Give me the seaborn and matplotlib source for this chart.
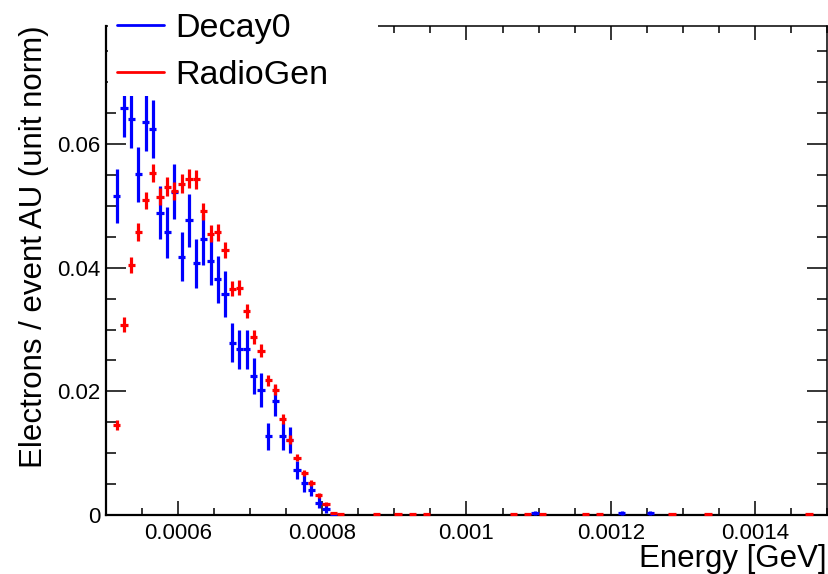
import numpy as np
import pandas as pd
import seaborn as sns
import matplotlib
matplotlib.use("Agg")
import matplotlib.pyplot as plt
from matplotlib.lines import Line2D
from matplotlib.patches import Rectangle
from matplotlib.ticker import MultipleLocator

# ---------------- data ----------------
half_bin = 0.000005

radiogen_energy = [0.000515, 0.000525, 0.000535, 0.000545, 0.000555, 0.000565, 0.000575,
                   0.000585, 0.000595, 0.000605, 0.000615, 0.000625, 0.000635, 0.000645,
                   0.000655, 0.000665, 0.000675, 0.000685, 0.000695, 0.000705, 0.000715,
                   0.000725, 0.000735, 0.000745, 0.000755, 0.000765, 0.000775, 0.000785,
                   0.000795, 0.000805, 0.000815, 0.000825,
                   0.000875, 0.000905, 0.000925, 0.000945, 0.001065, 0.001085, 0.001105,
                   0.001165, 0.001185, 0.001285, 0.001335, 0.001475]
radiogen_value = [0.0145, 0.0308, 0.0404, 0.0458, 0.0509, 0.0553, 0.0515,
                  0.0531, 0.0524, 0.0536, 0.0544, 0.0543, 0.0491, 0.0455,
                  0.0457, 0.0428, 0.0366, 0.0368, 0.0330, 0.0288, 0.0266,
                  0.0218, 0.0203, 0.0156, 0.0122, 0.0093, 0.0068, 0.0052,
                  0.0032, 0.0018, 0.0004, 0.0001,
                  0.0001, 0.0001, 0.0001, 0.0001, 0.0001, 0.0001, 0.0001,
                  0.0001, 0.0001, 0.0001, 0.0001, 0.0001]
radiogen_error = [0.0008, 0.0012, 0.0013, 0.0014, 0.0014, 0.0015, 0.0014,
                  0.0015, 0.0014, 0.0015, 0.0015, 0.0015, 0.0014, 0.0014,
                  0.0014, 0.0013, 0.0012, 0.0012, 0.0011, 0.0011, 0.0010,
                  0.0009, 0.0009, 0.0008, 0.0007, 0.0006, 0.0005, 0.0005,
                  0.0004, 0.0003, 0.00015, 0.0001,
                  0.0001, 0.0001, 0.0001, 0.0001, 0.0001, 0.0001, 0.0001,
                  0.0001, 0.0001, 0.0001, 0.0001, 0.0001]

decay0_energy = [0.000515, 0.000525, 0.000535, 0.000545, 0.000555, 0.000565, 0.000575,
                 0.000585, 0.000595, 0.000605, 0.000615, 0.000625, 0.000635, 0.000645,
                 0.000655, 0.000665, 0.000675, 0.000685, 0.000695, 0.000705, 0.000715,
                 0.000725, 0.000735, 0.000745, 0.000755, 0.000765, 0.000775, 0.000785,
                 0.000795, 0.000805, 0.000815,
                 0.001095, 0.001215, 0.001255]
decay0_value = [0.0516, 0.0659, 0.0640, 0.0551, 0.0636, 0.0625, 0.0489,
                0.0457, 0.0523, 0.0418, 0.0477, 0.0407, 0.0446, 0.0411,
                0.0381, 0.0357, 0.0279, 0.0268, 0.0268, 0.0225, 0.0202,
                0.0127, 0.0185, 0.0127, 0.0121, 0.0073, 0.0051, 0.0041,
                0.0020, 0.0010, 0.0002,
                0.0003, 0.0003, 0.0003]
decay0_error = [0.0044, 0.0047, 0.0047, 0.0045, 0.0047, 0.0047, 0.0043,
                0.0042, 0.0045, 0.0040, 0.0043, 0.0039, 0.0041, 0.0039,
                0.0038, 0.0037, 0.0032, 0.0032, 0.0032, 0.0029, 0.0028,
                0.0022, 0.0025, 0.0022, 0.0021, 0.0015, 0.0014, 0.0011,
                0.0009, 0.0006, 0.0002,
                0.0003, 0.0003, 0.0003]

series_names = ["Decay0", "RadioGen"]
series_colors = ["#0000ff", "#ff0000"]

xtick_values = [0.0006, 0.0008, 0.0010, 0.0012, 0.0014]
xtick_labels = ["0.0006", "0.0008", "0.001", "0.0012", "0.0014"]
ytick_values = [0.0, 0.02, 0.04, 0.06]
ytick_labels = ["0", "0.02", "0.04", "0.06"]

x_title = "Energy [GeV]"
y_title = "Electrons / event AU (unit norm)"

# ---------------- style ----------------
sns.set_theme(style="ticks")
plt.rcParams["font.family"] = ["Liberation Sans", "DejaVu Sans"]
plt.rcParams["text.color"] = "black"
plt.rcParams["axes.labelcolor"] = "black"
plt.rcParams["xtick.color"] = "black"
plt.rcParams["ytick.color"] = "black"

W, H = 829, 574
fig = plt.figure(figsize=(W / 100, H / 100), dpi=100)
ax = fig.add_axes([106 / W, 1 - 515 / H, (827 - 106) / W, (515 - 26) / H])

frames = {
    "Decay0": pd.DataFrame({"E": decay0_energy, "v": decay0_value, "err": decay0_error}),
    "RadioGen": pd.DataFrame({"E": radiogen_energy, "v": radiogen_value, "err": radiogen_error}),
}

for i, name in enumerate(series_names):
    df = frames[name]
    cont = ax.errorbar(df["E"], df["v"], yerr=df["err"], xerr=half_bin, fmt="none",
                       ecolor=series_colors[i], elinewidth=2.3, capsize=0, zorder=3 + i)
    for child in cont.get_children():
        child.set_clip_on(False)

ax.set_xlim(0.0005, 0.0015)
ax.set_ylim(0, 0.0791)

ax.set_xticks(xtick_values)
ax.set_xticklabels(xtick_labels)
ax.set_yticks(ytick_values)
ax.set_yticklabels(ytick_labels)
ax.xaxis.set_minor_locator(MultipleLocator(0.00005))
ax.yaxis.set_minor_locator(MultipleLocator(0.005))

ax.tick_params(axis="both", which="both", direction="in", top=True, right=True,
               colors="black", labelsize=16, width=1.1)
ax.tick_params(axis="x", which="major", length=10, pad=6)
ax.tick_params(axis="x", which="minor", length=5)
ax.tick_params(axis="y", which="major", length=14.4, pad=4.3)
ax.tick_params(axis="y", which="minor", length=7.2)

for side in ["left", "bottom"]:
    ax.spines[side].set_linewidth(1.6)
for side in ["top", "right"]:
    ax.spines[side].set_linewidth(1.1)
for sp in ax.spines.values():
    sp.set_color("black")
ax.set_xlabel("")
ax.set_ylabel("")

fig.text(827 / W, 1 - 567 / H, x_title, ha="right", va="baseline", fontsize=22.5,
         color="black")
fig.text(49 / W, 1 - 25 / H, y_title, ha="right", va="top", rotation=90,
         rotation_mode="default", fontsize=22.5, color="black")

# legend box (white, no border) covering the upper-left corner
fig.patches.append(Rectangle((108 / W, 1 - 96 / H), 270 / W, 96 / H,
                             transform=fig.transFigure, facecolor="white",
                             edgecolor="none", zorder=3))
handles = [Line2D([0], [0], color=c, lw=2) for c in series_colors]
fs = 24.5
fs_px = fs * 100 / 72
leg = fig.legend(handles, series_names, loc="upper left",
                 bbox_to_anchor=(117 / W, 1 - 13 / H), bbox_transform=fig.transFigure,
                 frameon=False, fontsize=fs, borderpad=0, borderaxespad=0,
                 handlelength=47 / fs_px, handletextpad=11 / fs_px, labelspacing=0.47)
for t in leg.get_texts():
    t.set_color("black")
leg.set_zorder(5)

fig.savefig("out.png", dpi=100)
